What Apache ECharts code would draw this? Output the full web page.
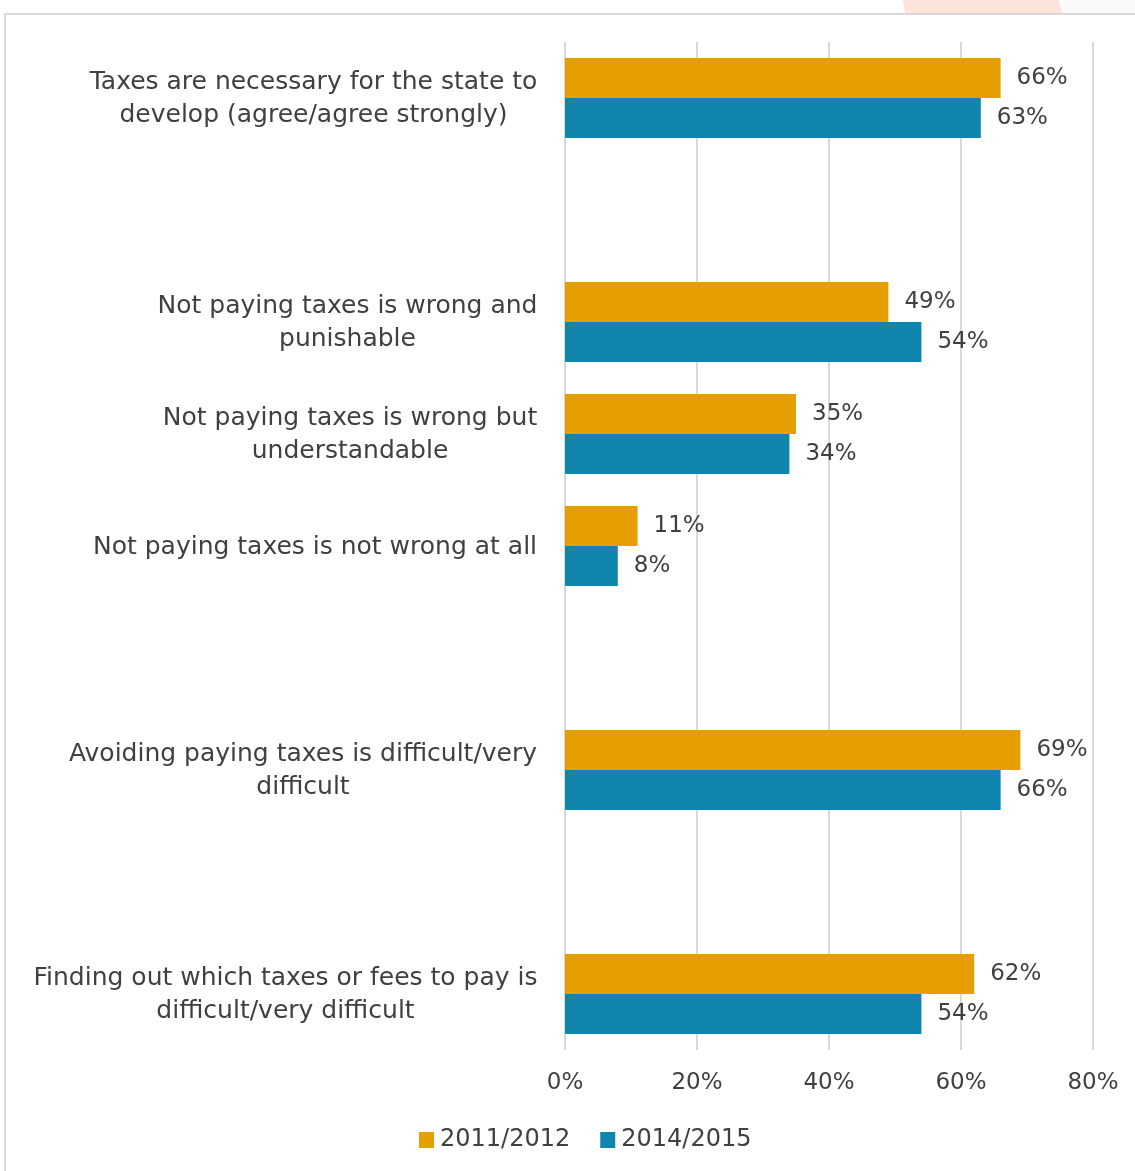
<!DOCTYPE html>
<html><head><meta charset="utf-8">
<script src="https://cdn.jsdelivr.net/npm/echarts@6/dist/echarts.min.js"></script>
<style>html,body{margin:0;padding:0;background:#fff}#c{width:1135px;height:1171px}</style>
</head><body><div id="c"></div>
<script>
const categories = [
  'Taxes are necessary for the state to\ndevelop (agree/agree strongly)',
  '',
  'Not paying taxes is wrong and\npunishable',
  'Not paying taxes is wrong but\nunderstandable',
  'Not paying taxes is not wrong at all',
  '',
  'Avoiding paying taxes is difficult/very\ndifficult',
  '',
  'Finding out which taxes or fees to pay is\ndifficult/very difficult'
];
const seriesNames = ['2011/2012', '2014/2015'];
const values2011 = [66, null, 49, 35, 11, null, 69, null, 62];
const values2014 = [63, null, 54, 34, 8, null, 66, null, 54];
const xTicks = [0, 20, 40, 60, 80];

const FONT = 'DejaVu Sans';
const CAT_SIZE = 25;
const ctx = document.createElement('canvas').getContext('2d');
ctx.font = CAT_SIZE + 'px "' + FONT + '"';
const rich = {};
categories.forEach((c, i) => {
  const w = Math.max(0, ...c.split('\n').map(l => ctx.measureText(l).width));
  rich['c' + i] = {width: Math.ceil(w) + 1, align: 'center', fontSize: CAT_SIZE, fontFamily: FONT, color: '#404040', lineHeight: 33, padding: [2, 0, 0, 0]};
});

const chart = echarts.init(document.getElementById('c'), null, {renderer: 'canvas'});
const labelCfg = {show: true, position: 'right', distance: 16, formatter: p => p.value + '%', color: '#404040', fontSize: 23, fontFamily: FONT, padding: [3, 0, 0, 0]};
chart.setOption({
  animation: false,
  graphic: [
    {type: 'polygon', shape: {points: [[903, 0], [1058, 0], [1063, 13], [905, 13]]}, style: {fill: '#fce4dc'}, z: -1},
    {type: 'rect', shape: {x: 1063, y: 0, width: 80, height: 13}, style: {fill: '#fafafa'}, z: -1},
    {type: 'rect', shape: {x: 5, y: 14, width: 1200, height: 1200}, style: {fill: 'none', stroke: '#d9d9d9', lineWidth: 2}, z: -1}
  ],
  legend: {
    bottom: 14, left: 414, itemWidth: 15, itemHeight: 16, itemGap: 30,
    icon: 'rect',
    textStyle: {color: '#404040', fontSize: 24, fontFamily: FONT, padding: [0, 0, 0, 1]},
    data: seriesNames
  },
  grid: {left: 565, right: 42, top: 42, bottom: 121, containLabel: false},
  xAxis: {
    type: 'value', min: 0, max: 80, interval: 20,
    axisLine: {show: false}, axisTick: {show: false},
    splitLine: {lineStyle: {color: '#d9d9d9', width: 2}},
    axisLabel: {formatter: v => xTicks.includes(v) ? v + '%' : '', color: '#404040', fontSize: 23, fontFamily: FONT, margin: 22}
  },
  yAxis: {
    type: 'category', inverse: true, data: categories,
    axisLine: {show: false}, axisTick: {show: false},
    axisLabel: {
      align: 'right', margin: 27, rich: rich,
      formatter: (v, i) => v ? v.split('\n').map(l => '{c' + i + '|' + l + '}').join('\n') : ''
    }
  },
  series: [
    {name: seriesNames[0], type: 'bar', data: values2011, barWidth: 40, barGap: '0%', itemStyle: {color: '#e69f00'}, label: labelCfg},
    {name: seriesNames[1], type: 'bar', data: values2014, barWidth: 40, barGap: '0%', itemStyle: {color: '#1085ad'}, label: labelCfg}
  ]
});
</script></body></html>
